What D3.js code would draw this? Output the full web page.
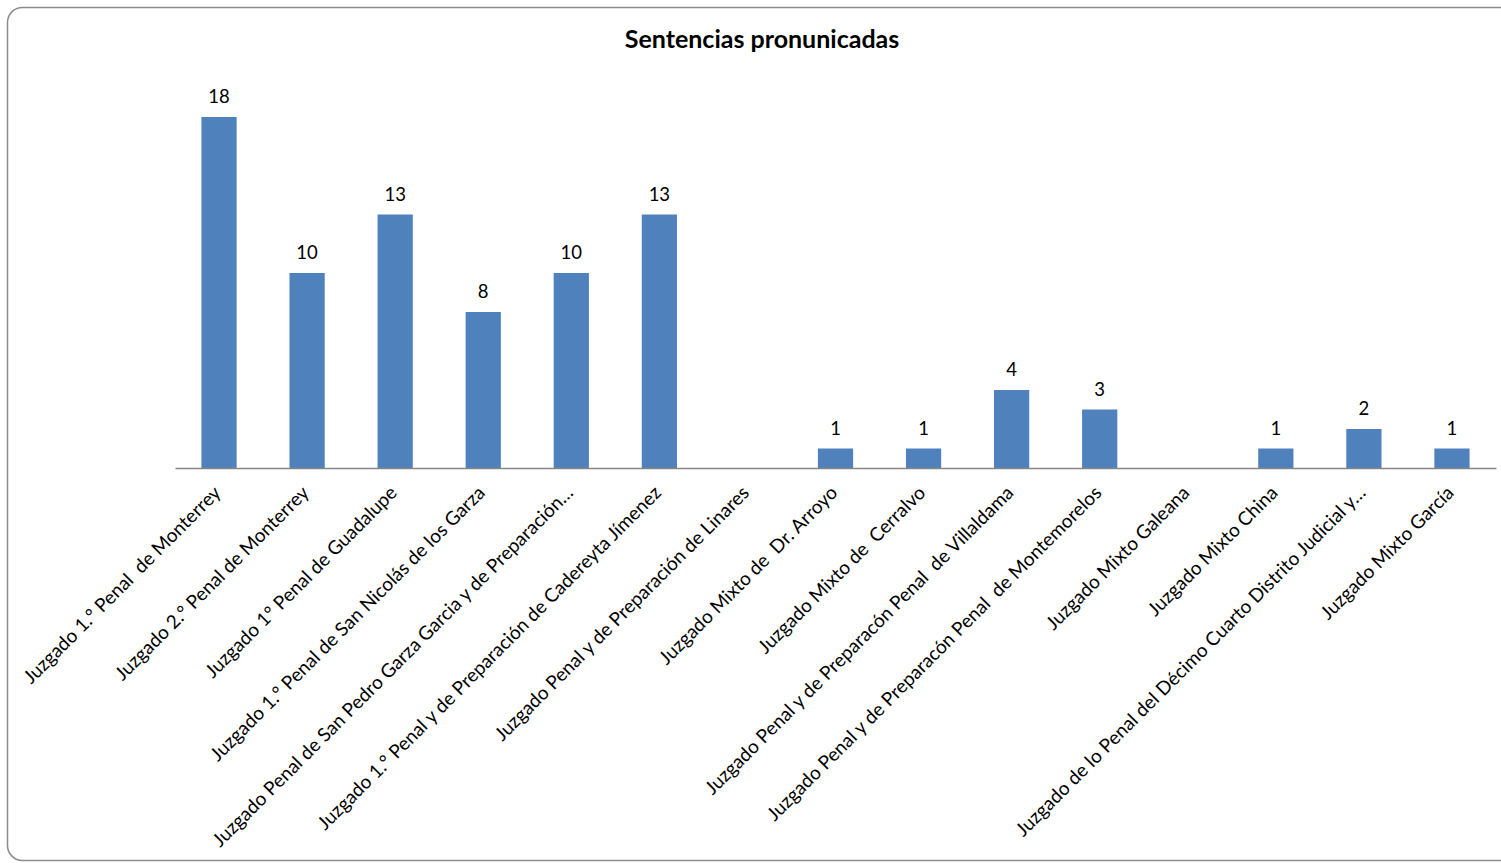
<!DOCTYPE html>
<html>
<head>
<meta charset="utf-8">
<script src="https://cdn.jsdelivr.net/npm/d3@7"></script>
<style>
  html, body { margin: 0; padding: 0; background: #fff; }
  svg { display: block; }
  text { white-space: pre; }
</style>
</head>
<body>
<script>
const title = "Sentencias pronunicadas";
const categories = [
  "Juzgado 1.° Penal  de Monterrey",
  "Juzgado 2.° Penal de Monterrey",
  "Juzgado 1° Penal de Guadalupe",
  "Juzgado 1.° Penal de San Nicolás de los Garza",
  "Juzgado Penal de San Pedro Garza Garcia y de Preparación…",
  "Juzgado 1.° Penal y de Preparación de Cadereyta Jímenez",
  "Juzgado Penal y de Preparación de Linares",
  "Juzgado Mixto de  Dr. Arroyo",
  "Juzgado Mixto de  Cerralvo",
  "Juzgado Penal y de Preparacón Penal  de Villaldama",
  "Juzgado Penal y de Preparacón Penal  de Montemorelos",
  "Juzgado Mixto Galeana",
  "Juzgado Mixto China",
  "Juzgado de lo Penal del Décimo Cuarto Distrito Judicial y…",
  "Juzgado Mixto García"
];
const values = [18, 10, 13, 8, 10, 13, null, 1, 1, 4, 3, null, 1, 2, 1];
const yDomain = [0, 20];

const W = 1501, H = 863;
const svg = d3.select("body").append("svg").attr("width", W).attr("height", H);

svg.append("rect")
  .attr("x", 7.5).attr("y", 7.5)
  .attr("width", 1520).attr("height", 853)
  .attr("rx", 15).attr("ry", 15)
  .attr("fill", "#fff").attr("stroke", "#8c8c8c").attr("stroke-width", 1.5);

const plot = { left: 175, right: 1496, top: 78, bottom: 468 };

const x = d3.scaleBand().domain(categories)
  .range([plot.left, plot.right]).paddingInner(0.6).paddingOuter(0.3);
const y = d3.scaleLinear().domain(yDomain).range([plot.bottom, plot.top]);

const FONT = "Lato, 'Open Sans', sans-serif";

svg.append("text")
  .attr("x", 762).attr("y", 48)
  .attr("text-anchor", "middle")
  .attr("font-family", FONT)
  .attr("font-weight", "bold").attr("font-size", 25)
  .attr("fill", "#000")
  .text(title);

const data = categories.map((c, i) => ({ c, v: values[i] }));
const shown = data.filter(d => d.v != null && d.v > 0);

svg.append("g").selectAll("rect")
  .data(shown)
  .join("rect")
  .attr("x", d => x(d.c))
  .attr("y", d => y(d.v))
  .attr("width", x.bandwidth())
  .attr("height", d => y(0) - y(d.v))
  .attr("fill", "#4F81BD");

svg.append("g").selectAll("text")
  .data(shown)
  .join("text")
  .attr("x", d => x(d.c) + x.bandwidth() / 2)
  .attr("y", d => y(d.v) - 14)
  .attr("text-anchor", "middle")
  .attr("font-family", FONT)
  .attr("font-size", 18.5)
  .attr("fill", "#000")
  .text(d => d.v);

const xAxis = d3.axisBottom(x).tickSize(0).tickPadding(0);
const gx = svg.append("g").attr("transform", `translate(0,${plot.bottom})`).call(xAxis);
gx.select(".domain").attr("stroke", "#868686").attr("stroke-width", 1.5);
gx.selectAll(".tick text")
  .attr("font-family", FONT)
  .attr("font-size", 19)
  .attr("fill", "#000")
  .attr("text-anchor", "end")
  .attr("dy", null)
  .attr("y", 0)
  .attr("transform", "translate(3,26) rotate(-45)");
</script>
</body>
</html>
